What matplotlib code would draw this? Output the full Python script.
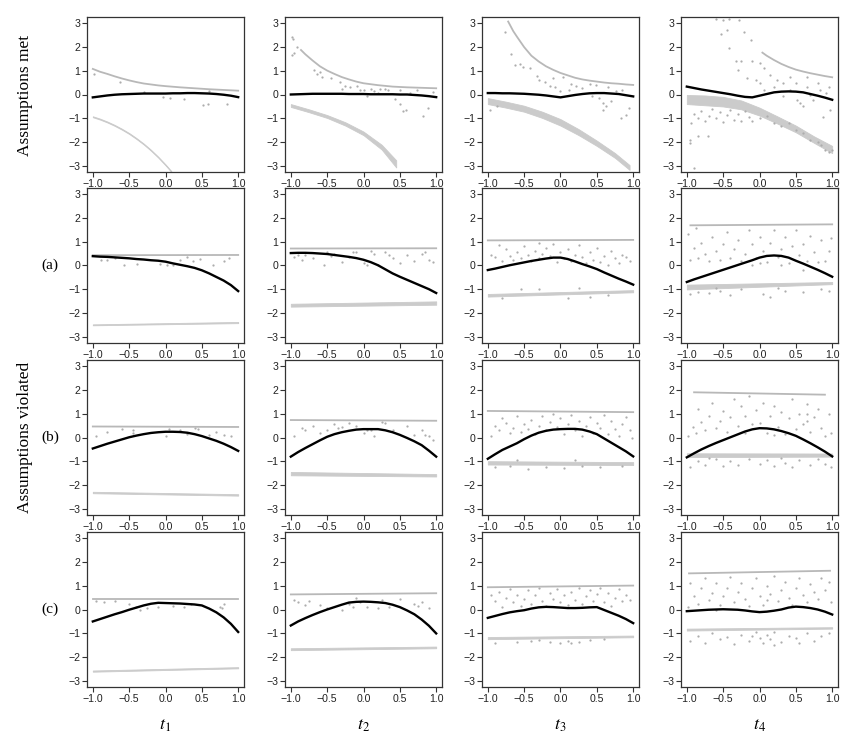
import numpy as np
import matplotlib
matplotlib.use("Agg")
import matplotlib.pyplot as plt
from matplotlib.transforms import blended_transform_factory

plt.rcParams["font.family"] = ["Liberation Sans", "DejaVu Sans"]
plt.rcParams["mathtext.fontset"] = "stix"

# ============================================================
# DATA
# ============================================================

fit_x = [-1.0, -0.9, -0.8, -0.7, -0.6, -0.5, -0.4, -0.3, -0.2, -0.1, 0.0,
         0.1, 0.2, 0.3, 0.4, 0.5, 0.6, 0.7, 0.8, 0.9, 1.0]

# black fitted curves, one list per column t1..t4
fit_met = [
    [-0.12, -0.08, -0.04, -0.01, 0.01, 0.02, 0.03, 0.04, 0.04, 0.04, 0.04, 0.05, 0.05, 0.06, 0.06, 0.05, 0.04, 0.02, -0.01, -0.05, -0.11],
    [0.00, 0.01, 0.02, 0.03, 0.03, 0.03, 0.03, 0.03, 0.02, 0.02, 0.02, 0.01, 0.01, 0.01, 0.01, 0.00, 0.00, -0.02, -0.04, -0.07, -0.11],
    [0.06, 0.06, 0.05, 0.05, 0.04, 0.03, 0.01, -0.01, -0.04, -0.08, -0.12, -0.07, -0.02, 0.02, 0.05, 0.06, 0.06, 0.04, 0.02, -0.03, -0.08],
    [0.33, 0.27, 0.21, 0.16, 0.11, 0.06, 0.01, -0.05, -0.10, -0.12, -0.05, 0.02, 0.09, 0.12, 0.13, 0.12, 0.09, 0.02, -0.05, -0.13, -0.22],
]
fit_a = [
    [0.39, 0.37, 0.36, 0.34, 0.32, 0.30, 0.27, 0.25, 0.22, 0.20, 0.16, 0.09, 0.03, -0.03, -0.10, -0.20, -0.33, -0.48, -0.63, -0.82, -1.07],
    [0.52, 0.53, 0.53, 0.52, 0.50, 0.48, 0.44, 0.40, 0.36, 0.31, 0.24, 0.14, 0.01, -0.16, -0.33, -0.47, -0.60, -0.73, -0.86, -0.99, -1.15],
    [-0.19, -0.13, -0.06, 0.01, 0.07, 0.13, 0.19, 0.24, 0.29, 0.33, 0.33, 0.27, 0.17, 0.06, -0.04, -0.15, -0.29, -0.42, -0.55, -0.67, -0.80],
    [-0.69, -0.58, -0.48, -0.38, -0.28, -0.18, -0.08, 0.02, 0.12, 0.22, 0.33, 0.40, 0.42, 0.40, 0.33, 0.20, 0.08, -0.05, -0.18, -0.32, -0.47],
]
fit_b = [
    [-0.46, -0.36, -0.26, -0.17, -0.08, 0.01, 0.08, 0.14, 0.19, 0.22, 0.24, 0.24, 0.23, 0.20, 0.14, 0.06, -0.04, -0.14, -0.26, -0.40, -0.56],
    [-0.80, -0.61, -0.44, -0.28, -0.12, 0.03, 0.14, 0.22, 0.28, 0.33, 0.35, 0.35, 0.35, 0.30, 0.22, 0.11, -0.02, -0.16, -0.32, -0.55, -0.80],
    [-0.89, -0.70, -0.52, -0.38, -0.24, -0.07, 0.08, 0.20, 0.28, 0.33, 0.35, 0.36, 0.36, 0.33, 0.25, 0.14, -0.04, -0.22, -0.40, -0.58, -0.79],
    [-0.83, -0.66, -0.50, -0.36, -0.23, -0.11, 0.01, 0.13, 0.25, 0.34, 0.39, 0.38, 0.34, 0.27, 0.18, 0.07, -0.08, -0.24, -0.41, -0.59, -0.79],
]
fit_c = [
    [-0.50, -0.40, -0.30, -0.20, -0.11, -0.01, 0.08, 0.17, 0.24, 0.28, 0.27, 0.26, 0.25, 0.23, 0.21, 0.17, 0.04, -0.12, -0.33, -0.60, -0.94],
    [-0.67, -0.50, -0.36, -0.23, -0.11, 0.00, 0.10, 0.20, 0.29, 0.32, 0.33, 0.32, 0.30, 0.27, 0.20, 0.10, -0.04, -0.20, -0.42, -0.68, -1.00],
    [-0.35, -0.27, -0.19, -0.12, -0.07, -0.03, 0.04, 0.09, 0.11, 0.10, 0.08, 0.06, 0.06, 0.07, 0.09, 0.10, -0.02, -0.14, -0.26, -0.40, -0.57],
    [-0.07, -0.05, -0.03, -0.01, 0.00, 0.01, 0.00, -0.01, -0.04, -0.08, -0.11, -0.09, -0.05, 0.00, 0.08, 0.12, 0.10, 0.06, 0.00, -0.09, -0.21],
]

# upper grey bound
up_met_x = [
    [-1.0, -0.9, -0.8, -0.7, -0.6, -0.5, -0.4, -0.3, -0.2, -0.1, 0.0, 0.2, 0.4, 0.6, 0.8, 1.0],
    [-0.86, -0.8, -0.7, -0.6, -0.5, -0.4, -0.3, -0.2, -0.1, 0.0, 0.2, 0.4, 0.6, 0.8, 1.0],
    [-0.72, -0.65, -0.6, -0.5, -0.4, -0.3, -0.2, -0.1, 0.0, 0.1, 0.2, 0.3, 0.4, 0.5, 0.6, 0.7, 0.8, 0.9, 1.0],
    [0.04, 0.1, 0.2, 0.3, 0.4, 0.5, 0.6, 0.7, 0.8, 0.9, 1.0],
]
up_met_y = [
    [1.07, 0.95, 0.86, 0.76, 0.67, 0.59, 0.52, 0.46, 0.42, 0.38, 0.35, 0.30, 0.26, 0.22, 0.19, 0.16],
    [1.86, 1.68, 1.42, 1.18, 1.00, 0.86, 0.73, 0.63, 0.54, 0.47, 0.39, 0.33, 0.30, 0.28, 0.26],
    [3.05, 2.65, 2.42, 1.98, 1.62, 1.38, 1.18, 1.03, 0.90, 0.80, 0.70, 0.63, 0.58, 0.54, 0.50, 0.47, 0.45, 0.42, 0.40],
    [1.75, 1.62, 1.44, 1.28, 1.15, 1.04, 0.96, 0.89, 0.83, 0.77, 0.72],
]
up_a_x = [[-1, 1], [-1, 1], [-1, 1], [-0.95, 1]]
up_a_y = [[0.43, 0.44], [0.71, 0.72], [1.05, 1.07], [1.68, 1.72]]
up_b_x = [[-1, 1], [-1, 1], [-1, 1], [-0.9, 0.9]]
up_b_y = [[0.46, 0.44], [0.73, 0.70], [1.11, 1.06], [1.89, 1.79]]
up_c_x = [[-1, 1], [-1, 1], [-1, 1], [-0.97, 0.97]]
up_c_y = [[0.42, 0.42], [0.63, 0.68], [0.93, 1.00], [1.51, 1.62]]

# lower dense band of points (top / bottom edge)
band_met_x = [
    [-1.0, -0.9, -0.8, -0.7, -0.6, -0.5, -0.4, -0.3, -0.2, -0.1, 0.0, 0.08],
    [-1.0, -0.75, -0.5, -0.25, 0.0, 0.25, 0.45],
    [-1.0, -0.75, -0.5, -0.25, 0.0, 0.25, 0.5, 0.75, 0.95],
    [-1.0, -0.75, -0.5, -0.25, 0.0, 0.25, 0.5, 0.75, 1.0],
]
band_met_hi = [
    [-0.91, -1.01, -1.13, -1.27, -1.43, -1.61, -1.82, -2.05, -2.31, -2.60, -2.92, -3.20],
    [-0.40, -0.62, -0.86, -1.16, -1.55, -2.10, -2.75],
    [-0.15, -0.30, -0.47, -0.72, -1.03, -1.45, -1.93, -2.45, -2.95],
    [-0.02, -0.04, -0.10, -0.25, -0.55, -0.92, -1.30, -1.75, -2.15],
]
band_met_lo = [
    [-0.95, -1.05, -1.17, -1.31, -1.47, -1.65, -1.86, -2.09, -2.35, -2.64, -2.96, -3.24],
    [-0.52, -0.74, -0.98, -1.30, -1.70, -2.30, -3.05],
    [-0.40, -0.55, -0.72, -0.98, -1.30, -1.70, -2.15, -2.65, -3.15],
    [-0.40, -0.45, -0.50, -0.62, -0.88, -1.22, -1.58, -2.02, -2.45],
]
band_x = [-1, 1]
band_a_hi = [[-2.46, -2.36], [-1.60, -1.50], [-1.19, -1.03], [-0.80, -0.69]]
band_a_lo = [[-2.50, -2.41], [-1.72, -1.64], [-1.30, -1.12], [-1.00, -0.78]]
band_b_hi = [[-2.27, -2.37], [-1.44, -1.53], [-0.99, -1.03], [-0.66, -0.67]]
band_b_lo = [[-2.33, -2.43], [-1.58, -1.63], [-1.13, -1.15], [-0.82, -0.80]]
band_c_hi = [[-2.55, -2.41], [-1.62, -1.55], [-1.15, -1.09], [-0.80, -0.74]]
band_c_lo = [[-2.60, -2.46], [-1.70, -1.62], [-1.24, -1.16], [-0.88, -0.80]]

# scattered individual points
pts_met = [
    [(-0.98, 0.86), (-0.63, 0.51), (-0.3, 0.12), (-0.03, -0.1), (0.06, -0.14), (0.25, -0.18),
     (0.52, -0.43), (0.59, -0.39), (0.84, -0.4), (0.6, 0.15)],
    [(-0.99, 2.42), (-0.97, 2.3), (-0.99, 1.65), (-0.95, 1.72), (-0.92, 2.0), (-0.68, 1.03), (-0.64, 0.86),
     (-0.57, 0.75), (-0.6, 0.95), (-0.45, 0.7), (-0.32, 0.54), (-0.3, 0.22), (-0.25, 0.35), (-0.18, 0.31),
     (-0.09, 0.36), (-0.05, 0.2), (0.0, 0.17), (0.05, -0.08), (0.1, 0.25), (0.14, 0.13), (0.2, 0.05),
     (0.23, 0.22), (0.3, 0.25), (0.34, 0.19), (0.43, -0.19), (0.5, -0.39), (0.5, 0.19), (0.55, -0.68),
     (0.59, -0.64), (0.64, 0.06), (0.73, 0.17), (0.82, -0.89), (0.89, -0.57), (0.95, 0.1)],
    [(-0.76, 2.62), (-0.68, 1.69), (-0.63, 1.24), (-0.56, 1.28), (-0.51, 1.17), (-0.42, 1.1), (-0.33, 0.78),
     (-0.29, 0.61), (-0.22, 0.54), (-0.15, 0.36), (-0.08, 0.31), (-0.01, 0.13), (0.03, 0.75), (0.12, 0.17),
     (0.21, 0.36), (0.3, 0.26), (0.4, 0.44), (0.49, 0.4), (0.53, -0.15), (0.58, -0.36), (0.62, -0.5),
     (0.69, -0.29), (0.76, 0.13), (0.83, -0.99), (0.9, -0.85), (0.94, -0.57), (0.58, -0.64), (0.44, -0.08),
     (-0.97, -0.64), (-0.88, -0.47), (0.65, 0.3), (0.85, 0.2), (0.15, 0.45), (-0.1, 0.7)],
    [(-0.6, 3.15), (-0.5, 3.1), (-0.42, 3.15), (-0.28, 3.1), (-0.53, 2.55), (-0.45, 2.7), (-0.21, 2.62),
     (-0.12, 2.28), (-0.42, 1.93), (-0.33, 1.38), (-0.3, 1.03), (-0.25, 1.4), (-0.17, 0.68), (-0.05, 0.61),
     (0.01, 0.47), (0.06, 0.19), (0.06, 1.1), (0.15, 0.82), (0.24, 0.61), (0.33, 0.47), (0.42, 0.19),
     (0.42, 0.75), (0.51, -0.22), (0.56, -0.36), (0.6, -0.5), (0.65, 0.33), (0.65, 0.75), (0.74, -0.22),
     (0.83, 0.19), (0.88, -0.92), (0.97, -0.64), (0.92, 0.06), (0.33, -0.08), (0.2, 0.3), (0.5, 0.5),
     (0.8, 0.5), (0.95, 0.3), (0.7, 0.0), (-0.1, 1.4), (0.0, 1.3),
     (-0.96, -1.89), (-0.96, -2.03), (-0.9, -3.07), (-0.85, -1.75), (-0.71, -1.75), (-0.94, -1.19),
     (-0.9, -0.8), (-0.85, -1.0), (-0.8, -0.7), (-0.75, -1.1), (-0.7, -0.9), (-0.65, -0.6), (-0.6, -1.0),
     (-0.55, -0.75), (-0.5, -1.15), (-0.45, -0.85), (-0.4, -0.65), (-0.35, -1.05), (-0.3, -0.8),
     (-0.25, -1.1), (-0.2, -0.7), (-0.15, -0.95), (-0.1, -1.1), (0.0, -1.0), (0.1, -0.9), (0.2, -1.2),
     (0.3, -1.3), (0.4, -1.2), (0.5, -1.5), (0.6, -1.6), (0.7, -1.9), (0.8, -2.0), (0.85, -2.1),
     (0.9, -2.3), (0.95, -2.4), (1.0, -2.3)],
]
pts_a = [
    [(-0.89, 0.25), (-0.8, 0.22), (-0.69, 0.32), (-0.57, 0.01), (-0.39, 0.07), (-0.07, 0.08), (0.02, 0.04),
     (0.11, 0.0), (0.2, 0.25), (0.29, 0.35), (0.38, 0.18), (0.47, 0.28), (0.65, 0.0), (0.81, 0.18), (0.88, 0.32)],
    [(-0.95, 0.35), (-0.9, 0.45), (-0.85, 0.25), (-0.8, 0.45), (-0.7, 0.3), (-0.55, 0.0), (-0.5, 0.55),
     (-0.45, 0.4), (-0.4, 0.5), (-0.3, 0.15), (-0.2, 0.35), (-0.15, 0.55), (-0.1, 0.55), (0.0, 0.1),
     (0.05, 0.0), (0.1, 0.6), (0.15, 0.5), (0.2, 0.0), (0.3, 0.55), (0.35, 0.45), (0.4, 0.3), (0.5, 0.1),
     (0.6, 0.45), (0.7, 0.2), (0.8, 0.5), (0.85, 0.55), (0.9, 0.25), (0.95, 0.15)],
    [(-0.95, 0.45), (-0.9, 0.35), (-0.85, 0.85), (-0.8, 0.2), (-0.75, 0.7), (-0.7, 0.4), (-0.65, 0.25),
     (-0.6, 0.55), (-0.55, 0.3), (-0.5, 0.8), (-0.45, 0.45), (-0.4, 0.2), (-0.35, 0.6), (-0.3, 0.95),
     (-0.3, 0.3), (-0.25, 0.5), (-0.2, 0.75), (-0.15, 0.4), (-0.1, 0.9), (-0.05, 0.15), (0.0, 0.55),
     (0.05, 0.3), (0.1, 0.7), (0.15, 0.2), (0.2, 0.45), (0.25, 0.85), (0.3, 0.35), (0.35, 0.1), (0.4, 0.55),
     (0.45, 0.25), (0.5, 0.75), (0.55, 0.15), (0.6, 0.4), (0.65, 0.0), (0.7, 0.6), (0.75, 0.3), (0.8, 0.1),
     (0.85, 0.45), (0.9, 0.35), (0.95, 0.2),
     (-0.8, -1.35), (-0.3, -1.0), (0.1, -1.35), (0.25, -0.95), (0.4, -1.3), (-0.55, -1.0), (0.65, -1.25)],
    [(-0.98, 1.3), (-0.95, 0.25), (-0.9, 0.75), (-0.88, 1.55), (-0.85, 0.3), (-0.8, 0.95), (-0.75, 0.5),
     (-0.7, 0.2), (-0.65, 1.2), (-0.6, 0.6), (-0.55, 0.25), (-0.5, 0.9), (-0.45, 1.4), (-0.4, 0.3),
     (-0.35, 0.7), (-0.3, 1.05), (-0.25, 0.2), (-0.2, 0.5), (-0.15, 1.5), (-0.1, 0.9), (-0.05, 0.3),
     (0.0, 1.2), (0.05, 0.6), (0.1, 0.15), (0.15, 0.95), (0.2, 1.5), (0.25, 0.35), (0.3, 0.7), (0.35, 1.2),
     (0.4, 0.1), (0.45, 0.8), (0.5, 1.5), (0.55, 0.45), (0.6, 0.9), (0.65, 0.2), (0.7, 1.25), (0.75, 0.55),
     (0.8, 0.15), (0.85, 1.05), (0.9, 0.2), (0.95, 0.6), (0.98, 1.15), (-0.1, 0.0), (0.3, 0.0), (0.6, -0.2),
     (0.0, 0.1),
     (-0.95, -1.2), (-0.85, -1.1), (-0.7, -1.15), (-0.55, -1.05), (-0.4, -1.25), (-0.25, -1.0), (0.05, -1.2),
     (0.15, -1.3), (0.35, -1.05), (0.6, -1.1), (0.85, -1.0), (-0.6, -0.95), (0.25, -0.95), (0.95, -1.05)],
]
pts_b = [
    [(-0.95, 0.05), (-0.8, 0.25), (-0.6, 0.35), (-0.45, 0.3), (-0.45, 0.2), (0.0, 0.05), (0.05, 0.35),
     (0.2, 0.3), (0.3, 0.15), (0.4, 0.4), (0.45, 0.35), (0.6, 0.1), (0.7, 0.25), (0.8, 0.1), (0.9, 0.05)],
    [(-0.95, 0.05), (-0.85, 0.4), (-0.8, 0.3), (-0.7, 0.5), (-0.6, 0.2), (-0.5, 0.3), (-0.4, 0.55),
     (-0.35, 0.4), (-0.3, 0.45), (-0.2, 0.6), (-0.1, 0.5), (0.0, 0.2), (0.05, 0.3), (0.1, 0.3), (0.15, 0.05),
     (0.25, 0.65), (0.3, 0.6), (0.4, 0.3), (0.6, 0.5), (0.7, 0.1), (0.8, 0.3), (0.85, 0.1), (0.9, 0.05),
     (0.95, -0.1)],
    [(-0.95, 0.05), (-0.9, 0.5), (-0.85, 0.3), (-0.8, 0.8), (-0.75, 0.6), (-0.7, 0.2), (-0.65, 0.4),
     (-0.6, 0.9), (-0.55, 0.25), (-0.5, 0.55), (-0.45, 0.35), (-0.4, 0.75), (-0.35, 0.15), (-0.3, 0.5),
     (-0.25, 0.9), (-0.2, 0.3), (-0.15, 0.65), (-0.1, 1.0), (-0.05, 0.45), (0.0, 0.8), (0.05, 0.15),
     (0.1, 0.55), (0.15, 0.95), (0.2, 0.3), (0.25, 0.7), (0.3, 0.05), (0.35, 0.5), (0.4, 0.85), (0.45, 0.2),
     (0.5, 0.6), (0.55, 0.4), (0.6, 0.95), (0.65, 0.15), (0.7, 0.7), (0.75, 0.35), (0.8, 0.05), (0.85, 0.55),
     (0.9, 0.85), (0.95, 0.3), (0.98, 0.0),
     (-0.9, -1.25), (-0.7, -1.2), (-0.45, -1.3), (-0.2, -1.22), (0.05, -1.28), (0.3, -1.2), (0.55, -1.25),
     (0.85, -1.2), (-0.6, -0.95), (0.2, -0.95)],
    [(-0.98, 0.05), (-0.92, 0.45), (-0.88, 0.2), (-0.85, 1.2), (-0.8, 0.65), (-0.75, 0.3), (-0.7, 0.9),
     (-0.65, 1.45), (-0.6, 0.4), (-0.55, 0.7), (-0.5, 1.1), (-0.45, 0.25), (-0.4, 0.85), (-0.35, 1.6),
     (-0.3, 0.5), (-0.25, 1.3), (-0.2, 0.9), (-0.15, 1.75), (-0.1, 0.55), (-0.05, 1.15), (0.0, 0.6),
     (0.05, 1.45), (0.1, 0.2), (0.15, 0.9), (0.2, 1.3), (0.25, 0.45), (0.3, 1.05), (0.35, 0.15), (0.4, 0.8),
     (0.45, 1.6), (0.5, 0.35), (0.55, 1.0), (0.6, 0.55), (0.65, 1.4), (0.7, 0.25), (0.75, 0.85), (0.8, 1.2),
     (0.85, 0.4), (0.9, 0.05), (0.95, 1.0), (0.98, 0.2), (0.65, 1.0), (0.65, 0.7), (-0.2, 0.2), (0.2, 0.1),
     (-0.95, -1.25), (-0.85, -1.0), (-0.75, -1.15), (-0.6, -0.9), (-0.5, -1.2), (-0.4, -1.0), (-0.3, -1.15),
     (-0.15, -0.9), (0.0, -1.1), (0.1, -0.95), (0.2, -1.2), (0.35, -1.05), (0.45, -1.25), (0.55, -0.95),
     (0.7, -1.15), (0.8, -0.9), (0.9, -1.1), (0.98, -1.25), (-0.7, -0.85), (0.3, -0.85)],
]
pts_c = [
    [(-0.95, 0.35), (-0.85, 0.3), (-0.7, 0.35), (-0.5, 0.25), (-0.4, 0.1), (-0.35, 0.0), (-0.25, 0.05),
     (-0.1, 0.1), (0.1, 0.15), (0.25, 0.1), (0.35, 0.25), (0.75, 0.1), (0.8, 0.25), (0.78, 0.05)],
    [(-0.95, 0.4), (-0.9, 0.3), (-0.8, 0.2), (-0.75, 0.35), (-0.6, 0.2), (-0.5, 0.05), (-0.3, 0.0),
     (-0.2, 0.25), (-0.15, 0.1), (-0.1, 0.5), (-0.05, 0.3), (0.05, 0.1), (0.2, 0.05), (0.25, 0.4),
     (0.35, 0.1), (0.5, 0.45), (0.7, 0.25), (0.75, 0.15), (0.8, 0.3), (0.9, 0.05)],
    [(-0.95, 0.6), (-0.9, 0.35), (-0.85, 0.75), (-0.8, 0.1), (-0.75, 0.5), (-0.7, 0.85), (-0.65, 0.3),
     (-0.6, 0.6), (-0.55, 0.15), (-0.5, 0.45), (-0.45, 0.8), (-0.4, 0.25), (-0.35, 0.6), (-0.3, 0.9),
     (-0.25, 0.35), (-0.2, 0.15), (-0.15, 0.7), (-0.1, 0.45), (-0.05, 0.85), (0.0, 0.3), (0.05, 0.6),
     (0.1, 0.2), (0.15, 0.75), (0.2, 0.4), (0.25, 0.9), (0.3, 0.25), (0.35, 0.55), (0.4, 0.8), (0.45, 0.35),
     (0.5, 0.65), (0.55, 0.9), (0.6, 0.3), (0.65, 0.7), (0.7, 0.15), (0.75, 0.5), (0.8, 0.85), (0.85, 0.35),
     (0.9, 0.6), (0.95, 0.4),
     (-0.9, -1.4), (-0.6, -1.35), (-0.4, -1.3), (-0.15, -1.35), (0.0, -1.4), (0.1, -1.3), (0.25, -1.35),
     (0.4, -1.28), (0.6, -1.25), (-0.3, -1.28), (0.15, -1.4)],
    [(-0.98, 0.1), (-0.95, 1.1), (-0.9, 0.55), (-0.85, 0.25), (-0.8, 0.9), (-0.75, 1.3), (-0.7, 0.4),
     (-0.65, 0.7), (-0.6, 1.1), (-0.55, 0.2), (-0.5, 0.55), (-0.45, 0.9), (-0.4, 1.35), (-0.35, 0.3),
     (-0.3, 0.75), (-0.25, 1.1), (-0.2, 0.45), (-0.15, 0.15), (-0.1, 0.9), (-0.05, 1.3), (0.0, 0.55),
     (0.05, 0.2), (0.1, 1.0), (0.15, 0.65), (0.2, 1.4), (0.25, 0.35), (0.3, 0.8), (0.35, 1.15), (0.4, 0.5),
     (0.45, 0.2), (0.5, 0.9), (0.55, 1.3), (0.6, 0.6), (0.65, 0.3), (0.7, 1.05), (0.75, 0.75), (0.8, 0.45),
     (0.85, 1.3), (0.9, 0.8), (0.95, 1.15), (0.98, 0.3), (0.1, 0.4), (-0.6, 0.0),
     (-0.95, -1.3), (-0.85, -1.1), (-0.75, -1.4), (-0.65, -1.0), (-0.55, -1.25), (-0.45, -1.15),
     (-0.35, -1.45), (-0.25, -1.05), (-0.15, -1.3), (-0.05, -0.95), (0.0, -1.2), (0.05, -1.4), (0.1, -1.05),
     (0.15, -1.25), (0.2, -0.95), (0.3, -1.35), (0.4, -1.1), (0.5, -1.2), (0.55, -1.4), (0.65, -1.0),
     (0.75, -1.3), (0.85, -1.1), (0.95, -1.0), (0.2, -1.5), (-0.1, -1.1)],
]

row_tags = ["", "(a)", "(b)", "(c)"]
col_labels = ["$t_1$", "$t_2$", "$t_3$", "$t_4$"]

# ============================================================
# FIGURE
# ============================================================

W_PX, H_PX = 858, 747
fig = plt.figure(figsize=(W_PX / 100, H_PX / 100), dpi=100)

col_left = [87, 285, 482, 681]
row_top = [17, 188, 360, 532]
ax_w, ax_h = 157, 155

fits = [fit_met, fit_a, fit_b, fit_c]
ups_x = [up_met_x, up_a_x, up_b_x, up_c_x]
ups_y = [up_met_y, up_a_y, up_b_y, up_c_y]
bands_hi = [band_met_hi, band_a_hi, band_b_hi, band_c_hi]
bands_lo = [band_met_lo, band_a_lo, band_b_lo, band_c_lo]
points = [pts_met, pts_a, pts_b, pts_c]

GREY_PT = "#adadad"
GREY_LN = "#b8b8b8"
GREY_BAND = "#cbcbcb"

for r in range(4):
    for c in range(4):
        ax = fig.add_axes([col_left[c] / W_PX, 1 - (row_top[r] + ax_h) / H_PX,
                           ax_w / W_PX, ax_h / H_PX])

        bx = band_met_x[c] if r == 0 else band_x
        ax.fill_between(bx, bands_lo[r][c], bands_hi[r][c],
                        color=GREY_BAND, lw=0.6, edgecolor=GREY_BAND)
        ax.plot(ups_x[r][c], ups_y[r][c], color=GREY_LN, lw=1.3)

        p = np.array(points[r][c])
        ax.scatter(p[:, 0], p[:, 1], s=2.6, color=GREY_PT, lw=0)

        ax.plot(fit_x, fits[r][c], color="black", lw=1.7)

        ax.set_xlim(-1.08, 1.08)
        ax.set_ylim(-3.24, 3.24)
        ax.set_xticks([-1.0, -0.5, 0.0, 0.5, 1.0])
        ax.set_xticklabels(["\u22121.0", "\u22120.5", "0.0", "0.5", "1.0"], fontsize=7.6)
        ax.set_yticks([3, 2, 1, 0, -1, -2, -3])
        ax.set_yticklabels(["3", "2", "1", "0", "\u22121", "\u22122", "\u22123"], fontsize=7.6)
        ax.tick_params(direction="out", length=3.5, width=0.8,
                       pad=1.5, color="#333333", labelcolor="#222222")
        for s in ax.spines.values():
            s.set_linewidth(0.9)
            s.set_color("#333333")

        if c == 0 and row_tags[r]:
            tr = blended_transform_factory(ax.transAxes, ax.transData)
            ax.text(-0.235, 0, row_tags[r], transform=tr, ha="center", va="center",
                    family=["Liberation Serif", "DejaVu Serif"], fontsize=11)

# row titles
fig.text(25 / W_PX, 1 - 95 / H_PX, "Assumptions met", rotation=90,
         ha="center", va="center", family=["Liberation Serif", "DejaVu Serif"], fontsize=12.5)
fig.text(25 / W_PX, 1 - 437 / H_PX, "Assumptions violated", rotation=90,
         ha="center", va="center", family=["Liberation Serif", "DejaVu Serif"], fontsize=12.5)

# column labels
for c in range(4):
    fig.text((col_left[c] + ax_w / 2) / W_PX, 1 - 725 / H_PX, col_labels[c],
             ha="center", va="center", fontsize=13)

fig.savefig("out.png", dpi=100)
